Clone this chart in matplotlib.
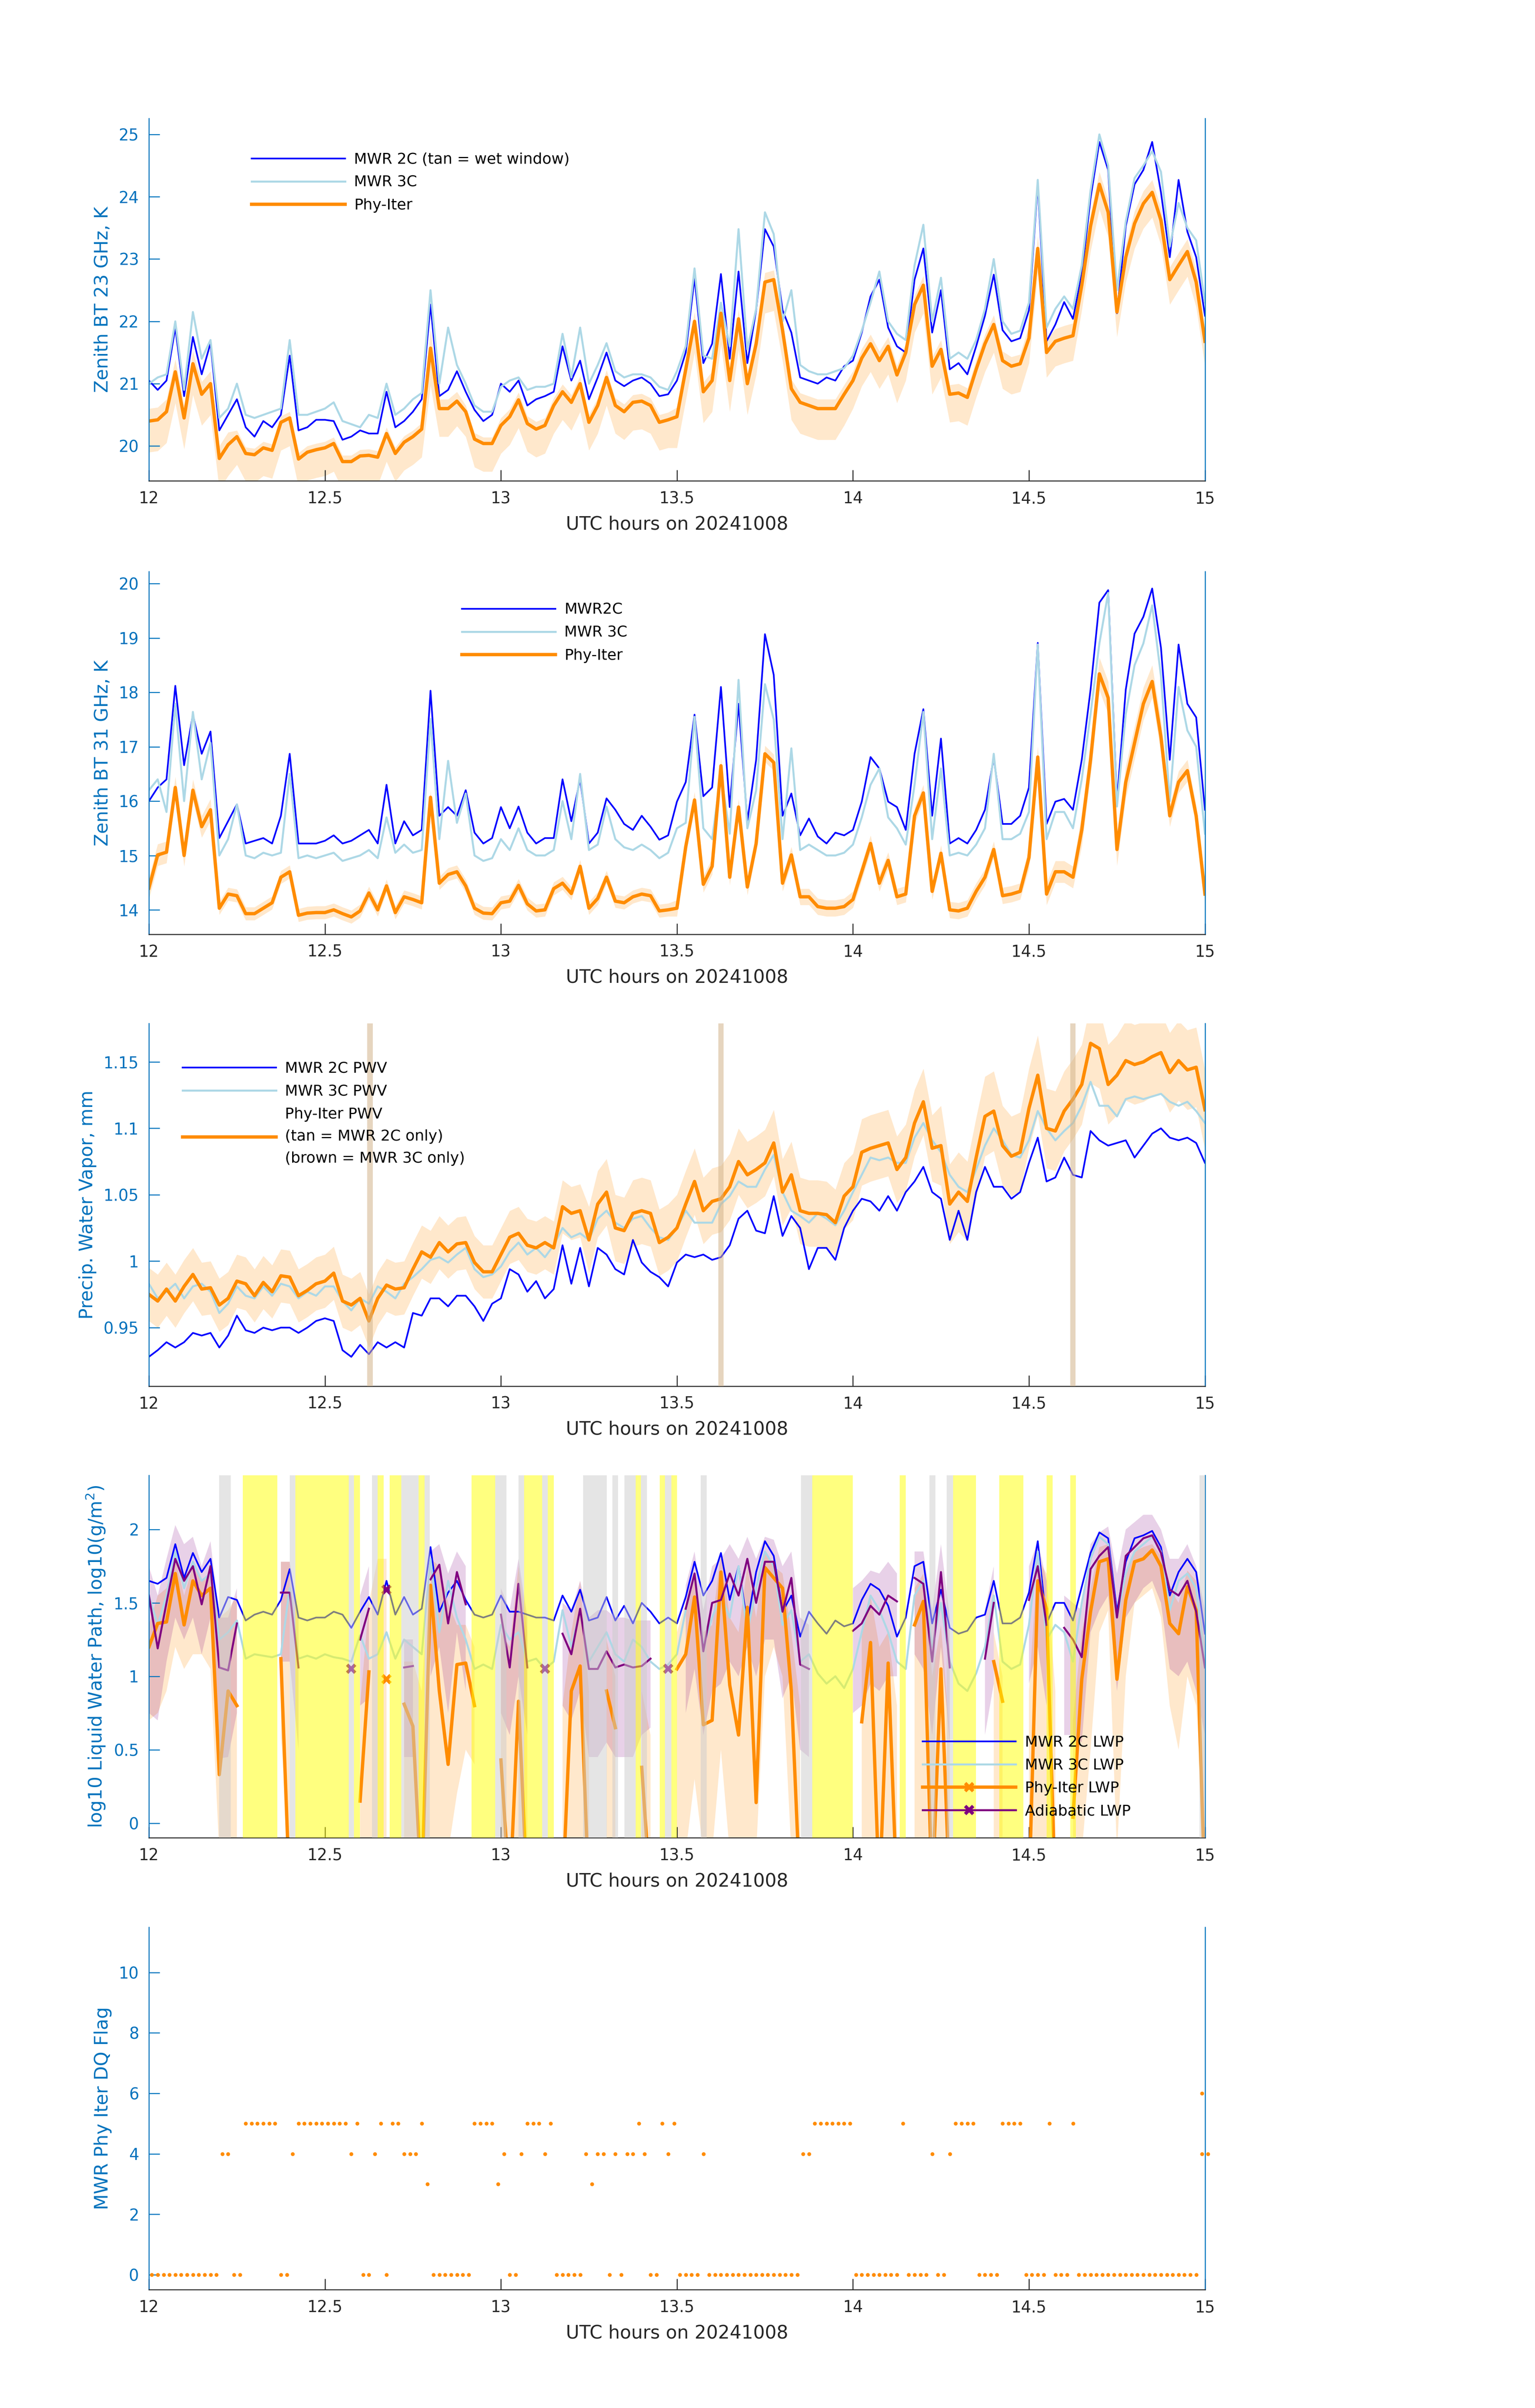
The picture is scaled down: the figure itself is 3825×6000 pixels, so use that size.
import numpy as np
import matplotlib.pyplot as plt
from matplotlib.lines import Line2D
from matplotlib.ticker import FormatStrFormatter

nan = np.nan

# time grid shared by the MWR / Phy-Iter series (1.5 min)
hours = np.linspace(12, 15, 121)

# --- 23 GHz brightness temperature, K
bt23_2c = [21.05, 20.9, 21.05, 21.9, 20.8, 21.75, 21.15, 21.65, 20.25, 20.5,
           20.75, 20.3, 20.15, 20.4, 20.3, 20.5, 21.45, 20.25, 20.3, 20.42,
           20.42, 20.4, 20.1, 20.15, 20.25, 20.2, 20.2, 20.87, 20.3, 20.4,
           20.55, 20.75, 22.27, 20.8, 20.9, 21.2, 20.87, 20.58, 20.4, 20.5,
           21.0, 20.87, 21.05, 20.65, 20.75, 20.8, 20.87, 21.6, 21.05, 21.37,
           20.75, 21.1, 21.5, 21.05, 20.96, 21.05, 21.1, 21.0, 20.8, 20.83,
           21.05, 21.5, 22.7, 21.33, 21.64, 22.76, 21.4, 22.8, 21.33, 22.18,
           23.48, 23.2, 22.18, 21.82, 21.1, 21.05, 21.0, 21.1, 21.05, 21.28,
           21.37, 21.82, 22.4, 22.67, 21.9, 21.6, 21.5, 22.67, 23.17, 21.82,
           22.5, 21.23, 21.33, 21.15, 21.6, 22.09, 22.75, 21.86, 21.68, 21.73,
           22.18, 24.2, 21.68, 21.95, 22.31, 22.04, 22.76, 23.98, 24.88, 24.43,
           22.13, 23.53, 24.2, 24.43, 24.88, 24.07, 23.03, 24.27, 23.44, 23.03,
           22.09]
bt23_3c = [21.0, 21.1, 21.15, 22.0, 20.9, 22.15, 21.4, 21.7, 20.45, 20.6,
           21.0, 20.5, 20.45, 20.5, 20.55, 20.6, 21.7, 20.5, 20.5, 20.55,
           20.6, 20.7, 20.4, 20.35, 20.3, 20.5, 20.45, 21.0, 20.5, 20.6,
           20.75, 20.85, 22.5, 21.0, 21.9, 21.3, 21.0, 20.65, 20.55, 20.55,
           20.95, 21.05, 21.1, 20.9, 20.95, 20.95, 21.0, 21.8, 21.1, 21.9,
           21.0, 21.3, 21.65, 21.2, 21.1, 21.15, 21.15, 21.1, 20.95, 20.9,
           21.2, 21.6, 22.85, 21.45, 21.4, 22.3, 21.6, 23.48, 21.55, 22.2,
           23.75, 23.4, 22.0, 22.5, 21.3, 21.2, 21.15, 21.15, 21.2, 21.25,
           21.45, 21.85, 22.3, 22.8, 22.0, 21.8, 21.7, 22.9, 23.55, 22.0,
           22.7, 21.4, 21.5, 21.4, 21.7, 22.2, 23.0, 22.0, 21.8, 21.85,
           22.3, 24.27, 21.9, 22.2, 22.4, 22.2, 22.9, 24.1, 25.0, 24.5,
           22.5, 23.6, 24.3, 24.5, 24.73, 24.4, 23.2, 23.9, 23.5, 23.3,
           22.3]
bt23_phy = [20.4, 20.42, 20.55, 21.19, 20.45, 21.32, 20.83, 21.0, 19.8, 20.02,
            20.15, 19.88, 19.86, 19.97, 19.93, 20.38, 20.45, 19.79, 19.9, 19.94,
            19.97, 20.04, 19.75, 19.75, 19.84, 19.85, 19.82, 20.2, 19.88, 20.06,
            20.15, 20.27, 21.57, 20.6, 20.6, 20.72, 20.55, 20.11, 20.04, 20.04,
            20.33, 20.47, 20.74, 20.36, 20.27, 20.33, 20.65, 20.87, 20.7, 21.0,
            20.38, 20.65, 21.1, 20.65, 20.55, 20.7, 20.72, 20.65, 20.38, 20.42,
            20.47, 21.23, 22.0, 20.87, 21.05, 22.13, 21.05, 22.04, 21.0, 21.64,
            22.63, 22.67, 21.86, 20.92, 20.7, 20.65, 20.6, 20.6, 20.6, 20.83,
            21.05, 21.41, 21.64, 21.37, 21.6, 21.14, 21.5, 22.27, 22.58, 21.28,
            21.55, 20.83, 20.85, 20.78, 21.23, 21.64, 21.95, 21.37, 21.28, 21.32,
            21.73, 23.17, 21.5, 21.68, 21.73, 21.77, 22.58, 23.53, 24.2, 23.75,
            22.15, 23.03, 23.57, 23.89, 24.07, 23.62, 22.67, 22.9, 23.12, 22.63,
            21.68]
bt23_err_lo = [0.5]*10 + [0.45]*20 + [0.45, 0.45, 0.6, 0.45, 0.45, 0.4, 0.4, 0.45, 0.45, 0.45] \
    + [0.45]*20 + [0.5]*20 + [0.45]*20 + [0.4]*21
bt23_err_hi = [0.2]*10 + [0.1]*20 + [0.1, 0.1, 0.3, 0.15, 0.15, 0.15, 0.1, 0.1, 0.1, 0.1] \
    + [0.12]*20 + [0.15]*20 + [0.15]*20 + [0.2]*21

# --- 31 GHz brightness temperature, K
bt31_2c = [16.0, 16.25, 16.4, 18.12, 16.66, 17.59, 16.87, 17.28, 15.32, 15.63,
           15.94, 15.22, 15.27, 15.32, 15.22, 15.73, 16.87, 15.22, 15.22, 15.22,
           15.27, 15.37, 15.22, 15.27, 15.37, 15.47, 15.22, 16.3, 15.22, 15.63,
           15.37, 15.47, 18.03, 15.73, 15.89, 15.73, 16.2, 15.42, 15.22, 15.32,
           15.89, 15.5, 15.9, 15.42, 15.22, 15.32, 15.32, 16.4, 15.63, 16.4,
           15.22, 15.42, 16.05, 15.84, 15.58, 15.47, 15.73, 15.53, 15.29, 15.37,
           15.99, 16.35, 17.59, 16.09, 16.25, 18.1, 15.89, 17.79, 15.63, 16.76,
           19.07, 18.32, 15.73, 16.14, 15.37, 15.68, 15.35, 15.22, 15.42, 15.37,
           15.47, 15.99, 16.81, 16.6, 15.99, 15.89, 15.47, 16.87, 17.69, 15.73,
           17.15, 15.22, 15.32, 15.22, 15.47, 15.84, 16.8, 15.58, 15.58, 15.73,
           16.25, 18.91, 15.58, 15.99, 16.04, 15.84, 16.76, 18.05, 19.65, 19.88,
           16.0, 18.05, 19.08, 19.39, 19.91, 18.82, 16.76, 18.88, 17.79, 17.54,
           15.84]
bt31_3c = [16.2, 16.4, 15.8, 17.79, 16.0, 17.64, 16.4, 17.07, 15.0, 15.3,
           15.94, 15.0, 14.95, 15.05, 15.0, 15.05, 16.5, 14.95, 15.0, 14.95,
           15.0, 15.05, 14.9, 14.95, 15.0, 15.1, 14.95, 15.7, 15.05, 15.2,
           15.05, 15.1, 17.51, 15.3, 16.74, 15.6, 16.14, 15.0, 14.9, 14.95,
           15.3, 15.1, 15.5, 15.1, 15.0, 15.0, 15.1, 16.0, 15.3, 16.5,
           15.1, 15.2, 15.9, 15.3, 15.15, 15.1, 15.2, 15.1, 14.95, 15.05,
           15.5, 15.6, 17.55, 15.5, 15.3, 16.5, 15.4, 18.23, 15.5, 16.2,
           18.15, 17.5, 15.3, 16.97, 15.1, 15.2, 15.1, 15.0, 15.0, 15.05,
           15.2, 15.7, 16.3, 16.6, 15.7, 15.5, 15.2, 16.3, 17.64, 15.3,
           16.6, 15.0, 15.05, 15.0, 15.2, 15.5, 16.87, 15.3, 15.3, 15.4,
           15.8, 18.88, 15.3, 15.8, 15.8, 15.5, 16.4, 17.6, 18.9, 19.83,
           15.9, 17.6, 18.5, 18.9, 19.6, 18.3, 16.0, 18.1, 17.3, 17.0,
           15.4]
bt31_phy = [14.4, 15.01, 15.06, 16.25, 15.0, 16.2, 15.53, 15.84, 14.03, 14.29,
            14.26, 13.93, 13.93, 14.03, 14.13, 14.6, 14.7, 13.9, 13.94, 13.95,
            13.95, 14.0, 13.93, 13.87, 13.98, 14.31, 14.0, 14.44, 13.95, 14.24,
            14.19, 14.13, 16.07, 14.49, 14.65, 14.7, 14.44, 14.03, 13.94, 13.93,
            14.13, 14.16, 14.45, 14.11, 13.98, 14.0, 14.39, 14.49, 14.3, 14.8,
            14.03, 14.21, 14.6, 14.16, 14.13, 14.24, 14.29, 14.26, 13.98, 14.0,
            14.03, 15.16, 16.02, 14.47, 14.8, 16.65, 14.6, 15.89, 14.42, 15.22,
            16.87, 16.71, 14.49, 15.01, 14.24, 14.24, 14.06, 14.03, 14.03, 14.06,
            14.19, 14.7, 15.22, 14.49, 14.91, 14.24, 14.29, 15.73, 16.15, 14.34,
            15.04, 14.0, 13.98, 14.03, 14.34, 14.6, 15.11, 14.26, 14.29, 14.34,
            14.96, 16.81, 14.29, 14.7, 14.7, 14.6, 15.47, 16.76, 18.34, 17.9,
            15.11, 16.35, 17.07, 17.79, 18.2, 17.18, 15.73, 16.35, 16.56, 15.73,
            14.29]
bt31_err = [0.2]*8 + [0.12]*52 + [0.15]*40 + [0.2]*6 + [0.3]*10 + [0.2]*5

# --- precipitable water vapor
pwv_2c = [0.928, 0.933, 0.939, 0.935, 0.939, 0.946, 0.944, 0.946, 0.935, 0.944,
          0.959, 0.948, 0.946, 0.950, 0.948, 0.950, 0.950, 0.946, 0.950, 0.955,
          0.957, 0.955, 0.933, 0.928, 0.937, 0.930, 0.939, 0.935, 0.939, 0.935,
          0.961, 0.959, 0.972, 0.972, 0.966, 0.974, 0.974, 0.966, 0.955, 0.968,
          0.972, 0.994, 0.990, 0.977, 0.985, 0.972, 0.979, 1.012, 0.983, 1.010,
          0.981, 1.010, 1.005, 0.994, 0.990, 1.016, 0.999, 0.992, 0.988, 0.981,
          0.999, 1.005, 1.003, 1.005, 1.001, 1.003, 1.012, 1.032, 1.038, 1.023,
          1.021, 1.049, 1.019, 1.034, 1.025, 0.994, 1.010, 1.010, 1.001, 1.025,
          1.038, 1.047, 1.045, 1.038, 1.049, 1.038, 1.052, 1.060, 1.071, 1.052,
          1.047, 1.016, 1.038, 1.016, 1.052, 1.071, 1.056, 1.056, 1.047, 1.052,
          1.074, 1.093, 1.060, 1.063, 1.078, 1.065, 1.063, 1.098, 1.091, 1.087,
          1.089, 1.091, 1.078, 1.087, 1.096, 1.100, 1.093, 1.091, 1.093, 1.089,
          1.074]
pwv_3c = [0.983, 0.972, 0.977, 0.983, 0.972, 0.981, 0.983, 0.977, 0.961, 0.968,
          0.981, 0.974, 0.972, 0.981, 0.974, 0.983, 0.981, 0.972, 0.977, 0.974,
          0.981, 0.981, 0.970, 0.963, 0.972, 0.968, 0.981, 0.977, 0.972, 0.983,
          0.988, 0.994, 1.001, 1.003, 0.999, 1.005, 1.010, 0.994, 0.988, 0.990,
          0.996, 1.007, 1.014, 1.005, 1.010, 1.003, 1.012, 1.025, 1.018, 1.021,
          1.016, 1.032, 1.038, 1.029, 1.025, 1.032, 1.034, 1.025, 1.018, 1.016,
          1.025, 1.038, 1.029, 1.029, 1.029, 1.043, 1.049, 1.060, 1.056, 1.056,
          1.069, 1.080, 1.052, 1.038, 1.034, 1.029, 1.036, 1.032, 1.027, 1.038,
          1.052, 1.065, 1.078, 1.076, 1.078, 1.074, 1.074, 1.093, 1.104, 1.091,
          1.082, 1.065, 1.056, 1.052, 1.069, 1.087, 1.100, 1.091, 1.080, 1.078,
          1.091, 1.113, 1.100, 1.091, 1.098, 1.104, 1.117, 1.135, 1.117, 1.117,
          1.109, 1.122, 1.124, 1.122, 1.124, 1.126, 1.120, 1.117, 1.120, 1.113,
          1.104]
pwv_phy = [0.975, 0.970, 0.979, 0.970, 0.981, 0.990, 0.979, 0.980, 0.967, 0.972,
           0.985, 0.983, 0.974, 0.984, 0.977, 0.989, 0.988, 0.974, 0.978, 0.983,
           0.985, 0.991, 0.970, 0.967, 0.972, 0.955, 0.972, 0.982, 0.979, 0.980,
           0.994, 1.007, 1.003, 1.014, 1.007, 1.013, 1.014, 0.999, 0.992, 0.992,
           1.005, 1.018, 1.021, 1.012, 1.010, 1.014, 1.010, 1.041, 1.036, 1.038,
           1.016, 1.043, 1.052, 1.025, 1.023, 1.036, 1.038, 1.036, 1.014, 1.018,
           1.025, 1.043, 1.060, 1.038, 1.045, 1.047, 1.056, 1.075, 1.065, 1.069,
           1.074, 1.089, 1.052, 1.065, 1.038, 1.036, 1.036, 1.035, 1.029, 1.049,
           1.056, 1.082, 1.085, 1.087, 1.089, 1.069, 1.078, 1.104, 1.120, 1.085,
           1.087, 1.043, 1.052, 1.045, 1.078, 1.109, 1.113, 1.087, 1.079, 1.082,
           1.115, 1.140, 1.100, 1.098, 1.113, 1.122, 1.133, 1.164, 1.160, 1.133,
           1.140, 1.151, 1.148, 1.150, 1.154, 1.157, 1.142, 1.151, 1.144, 1.146,
           1.114]
pwv_err = [0.02]*50 + [0.025]*40 + [0.03]*31
wet_windows = [(12.620, 12.636), (13.618, 13.632), (14.617, 14.632)]

# --- liquid water path, log10(g/m2)
lwp_2c = [1.65, 1.63, 1.67, 1.90, 1.67, 1.84, 1.71, 1.80, 1.40, 1.54,
          1.52, 1.38, 1.42, 1.44, 1.42, 1.52, 1.73, 1.40, 1.38, 1.40,
          1.40, 1.44, 1.42, 1.33, 1.44, 1.54, 1.42, 1.65, 1.42, 1.54,
          1.42, 1.46, 1.88, 1.44, 1.57, 1.65, 1.52, 1.42, 1.40, 1.42,
          1.55, 1.44, 1.44, 1.42, 1.40, 1.40, 1.38, 1.55, 1.44, 1.59,
          1.38, 1.40, 1.54, 1.38, 1.48, 1.36, 1.50, 1.44, 1.36, 1.40,
          1.36, 1.54, 1.78, 1.55, 1.65, 1.84, 1.52, 1.75, 1.36, 1.71,
          1.92, 1.82, 1.44, 1.55, 1.27, 1.44, 1.36, 1.29, 1.38, 1.34,
          1.36, 1.52, 1.63, 1.59, 1.48, 1.27, 1.40, 1.75, 1.78, 1.36,
          1.59, 1.33, 1.29, 1.31, 1.40, 1.42, 1.65, 1.36, 1.36, 1.40,
          1.57, 1.92, 1.36, 1.50, 1.50, 1.38, 1.61, 1.84, 1.98, 1.94,
          1.44, 1.78, 1.94, 1.96, 1.99, 1.88, 1.55, 1.71, 1.80, 1.71,
          1.29]
lwp_3c = [1.55, 1.35, 1.55, 1.85, 1.60, 1.78, 1.65, 1.70, 1.25, 1.30,
          1.38, 1.12, 1.15, 1.14, 1.13, 1.15, 1.60, 1.12, 1.14, 1.12,
          1.15, 1.13, 1.12, 1.10, 1.28, 1.12, 1.15, 1.30, 1.12, 1.25,
          1.20, 1.15, 1.80, 1.30, 1.65, 1.40, 1.25, 1.05, 1.08, 1.05,
          1.35, 1.25, 1.30, 1.10, 1.12, 1.05, 1.10, 1.45, 1.20, 1.45,
          1.10, 1.20, 1.30, 1.15, 1.10, 1.25, 1.20, 1.10, 1.05, 1.08,
          1.15, 1.45, 1.70, 1.20, 1.40, 1.55, 1.40, 1.75, 1.30, 1.60,
          1.85, 1.75, 1.35, 1.45, 1.10, 1.15, 1.02, 0.95, 1.00, 0.92,
          1.05, 1.30, 1.55, 1.45, 1.30, 1.10, 1.05, 1.55, 1.65, 1.20,
          1.50, 1.10, 0.95, 0.90, 1.02, 1.20, 1.55, 1.10, 1.05, 1.08,
          1.35, 1.85, 1.25, 1.35, 1.30, 1.10, 1.50, 1.80, 1.95, 1.90,
          1.40, 1.70, 1.85, 1.90, 1.95, 1.85, 1.45, 1.65, 1.70, 1.60,
          1.10]
lwp_phy = [1.20, 1.36, 1.37, 1.70, 1.35, 1.65, 1.55, 1.60, 0.33, 0.90,
           0.80, nan, nan, nan, nan, 1.12, -0.5, nan, nan, nan,
           nan, nan, nan, nan, 0.15, 1.03, nan, nan, nan, 0.81,
           0.66, -0.5, 1.62, 0.90, 0.40, 1.08, 1.09, 0.80, nan, nan,
           0.43, -0.5, 0.83, -0.5, nan, nan, nan, -0.5, 0.90, 1.07,
           -0.5, nan, 0.90, 0.65, nan, nan, 0.38, -0.5, nan, nan,
           1.05, 1.15, 1.54, 0.67, 0.70, 1.71, 0.94, 0.60, 1.47, 0.14,
           1.74, 1.67, 1.60, 0.90, -0.5, nan, nan, nan, nan, nan,
           nan, 0.69, 1.23, -0.5, 1.09, -0.5, nan, 1.35, 1.51, -0.5,
           1.05, -0.5, nan, nan, nan, nan, 1.10, 0.83, nan, nan,
           -0.5, 1.65, 1.46, -0.5, nan, 0.04, 0.98, 1.44, 1.78, 1.80,
           0.98, 1.52, 1.78, 1.80, 1.86, 1.75, 1.36, 1.29, 1.61, 1.45,
           -0.5]
lwp_phy_up = [1.35, 1.55, 1.60, 1.80, 1.55, 1.75, 1.65, 1.70, 1.40, 1.45,
              1.55, nan, nan, nan, nan, 1.78, 1.78, nan, nan, nan,
              nan, nan, nan, nan, 0.80, 1.50, 1.80, 1.80, nan, 1.10,
              1.10, 0.90, 1.80, 1.75, 1.50, 1.35, 1.35, 1.20, nan, nan,
              1.30, 1.20, 1.75, 1.30, nan, nan, nan, 0.80, 1.30, 1.65,
              0.90, nan, 1.25, 1.00, nan, nan, 0.90, 0.60, nan, nan,
              1.30, 1.50, 1.70, 1.30, 1.35, 1.85, 1.40, 1.30, 1.75, 1.40,
              1.85, 1.75, 1.70, 1.30, 0.80, nan, nan, nan, nan, nan,
              nan, 1.30, 1.55, 1.20, 1.30, 0.80, nan, 1.60, 1.70, 1.00,
              1.35, 0.60, nan, nan, nan, nan, 1.30, 1.00, nan, nan,
              0.90, 1.80, 1.70, 0.90, nan, 0.70, 1.30, 1.60, 1.88, 1.90,
              1.40, 1.70, 1.85, 1.88, 1.90, 1.82, 1.60, 1.50, 1.72, 1.65,
              1.20]
lwp_phy_lo = [0.70, 0.75, 0.90, 1.20, 1.05, 1.15, 1.15, 1.05, -0.2, -0.2,
              -0.2, nan, nan, nan, nan, 0.58, -0.2, nan, nan, nan,
              nan, nan, nan, nan, -0.2, -0.2, -0.2, -0.2, nan, -0.2,
              -0.2, -0.2, -0.2, -0.2, -0.2, 0.20, 0.50, 0.40, nan, nan,
              -0.2, -0.2, -0.2, -0.2, nan, nan, nan, -0.2, -0.2, -0.2,
              -0.2, nan, -0.2, -0.2, nan, nan, -0.2, -0.2, nan, nan,
              -0.2, -0.2, 0.30, -0.2, -0.2, 0.50, -0.2, -0.2, -0.2, -0.2,
              1.00, 1.20, 1.00, -0.2, -0.2, nan, nan, nan, nan, nan,
              nan, -0.2, -0.2, -0.2, -0.2, -0.2, nan, -0.2, -0.2, -0.2,
              -0.2, -0.2, nan, nan, nan, nan, -0.2, -0.2, nan, nan,
              -0.2, -0.2, -0.2, -0.2, nan, -0.2, -0.2, 0.50, 1.30, 1.45,
              -0.2, 1.00, 1.50, 1.55, 1.60, 1.40, 0.80, 0.50, 1.00, 0.80,
              -0.2]
lwp_adiab = [1.55, 1.19, 1.50, 1.80, 1.65, 1.75, 1.49, 1.75, 1.06, 1.04,
             1.36, nan, nan, nan, nan, 1.57, 1.57, 1.06, nan, nan,
             nan, nan, nan, nan, 1.25, 1.46, nan, nan, nan, 1.06,
             1.07, nan, 1.66, 1.76, 1.36, 1.71, 1.49, nan, nan, nan,
             1.42, 1.06, 1.63, 1.06, nan, nan, nan, 1.29, 1.15, 1.46,
             1.05, 1.05, 1.17, 1.06, 1.08, 1.06, 1.07, 1.12, nan, nan,
             nan, 1.46, 1.70, 1.17, 1.50, 1.52, 1.70, 1.55, 1.80, 1.50,
             1.78, 1.78, 1.44, 1.67, 1.08, 1.05, nan, nan, nan, nan,
             1.31, 1.36, 1.48, 1.42, 1.55, 1.51, nan, 1.67, 1.63, 1.10,
             1.71, 1.06, nan, nan, nan, 1.12, 1.50, nan, nan, nan,
             1.52, 1.75, 1.35, nan, 1.33, 1.25, 1.13, 1.73, 1.82, 1.88,
             1.40, 1.82, 1.88, 1.94, 1.96, 1.84, 1.59, 1.55, 1.65, 1.44,
             1.06]
lwp_adiab_up = [1.75, 1.55, 1.80, 2.03, 1.90, 1.95, 1.75, 1.92, 1.40, 1.40,
                1.60, nan, nan, nan, nan, 1.78, 1.78, 1.40, nan, nan,
                nan, nan, nan, nan, 1.55, 1.75, nan, nan, nan, 1.25,
                1.25, nan, 1.85, 1.90, 1.70, 1.85, 1.75, nan, nan, nan,
                1.60, 1.45, 1.80, 1.40, nan, nan, nan, 1.50, 1.45, 1.65,
                1.40, 1.45, 1.45, 1.40, 1.40, 1.38, 1.38, 1.38, nan, nan,
                nan, 1.62, 1.85, 1.45, 1.75, 1.80, 1.90, 1.80, 1.95, 1.80,
                1.95, 1.93, 1.75, 1.85, 1.40, 1.35, nan, nan, nan, nan,
                1.60, 1.65, 1.72, 1.70, 1.78, 1.70, nan, 1.85, 1.85, 1.45,
                1.90, 1.40, nan, nan, nan, 1.45, 1.75, nan, nan, nan,
                1.75, 1.92, 1.65, nan, 1.55, 1.50, 1.45, 1.90, 1.98, 2.02,
                1.70, 2.00, 2.05, 2.10, 2.10, 2.00, 1.80, 1.80, 1.90, 1.75,
                1.45]
lwp_adiab_lo = [0.75, 0.70, 1.10, 1.40, 1.25, 1.40, 1.15, 1.40, 0.44, 0.45,
                0.75, nan, nan, nan, nan, 1.10, 1.10, 0.50, nan, nan,
                nan, nan, nan, nan, 0.80, 0.85, nan, nan, nan, 0.45,
                0.45, nan, 1.00, 1.20, 0.75, 1.30, 0.90, nan, nan, nan,
                0.75, 0.60, 1.00, 0.60, nan, nan, nan, 0.80, 0.70, 0.90,
                0.45, 0.45, 0.55, 0.45, 0.45, 0.45, 0.60, 0.65, nan, nan,
                nan, 0.75, 1.05, 0.60, 0.90, 0.95, 1.10, 1.00, 1.20, 1.00,
                1.25, 1.25, 0.85, 1.00, 0.50, 0.45, nan, nan, nan, nan,
                0.75, 0.80, 0.95, 0.90, 1.00, 1.00, nan, 1.15, 1.05, 0.60,
                1.20, 0.55, nan, nan, nan, 0.60, 0.95, nan, nan, nan,
                0.95, 1.20, 0.80, nan, 0.60, 0.60, 0.55, 1.30, 1.45, 1.55,
                0.90, 1.40, 1.50, 1.60, 1.65, 1.50, 1.05, 1.00, 1.10, 0.90,
                0.60]
adiab_pts_t = [12.575, 12.675, 13.125, 13.475]
adiab_pts_v = [1.05, 1.59, 1.05, 1.05]
phy_pts_t = [12.675]
phy_pts_v = [0.98]
clear_spans = [(12.267, 12.365), (12.416, 12.568), (12.583, 12.600), (12.650, 12.667),
               (12.684, 12.717), (12.766, 12.783), (12.916, 12.984), (13.066, 13.117),
               (13.133, 13.150), (13.383, 13.398), (13.451, 13.466), (13.484, 13.500),
               (13.884, 14.000), (14.133, 14.150), (14.284, 14.350), (14.416, 14.484),
               (14.550, 14.567), (14.617, 14.633)]
flag_spans = [(12.200, 12.233), (12.400, 12.416), (12.568, 12.583), (12.634, 12.650),
              (12.717, 12.766), (12.783, 12.798), (12.984, 13.016), (13.050, 13.066),
              (13.117, 13.133), (13.234, 13.301), (13.317, 13.333), (13.351, 13.383),
              (13.398, 13.415), (13.466, 13.484), (13.568, 13.584), (13.852, 13.884),
              (14.217, 14.234), (14.266, 14.284), (14.984, 15.000)]

# --- Phy-Iter data quality flag, one per minute
dq_flag = [0, 0, 0, 0, 0, 0, 0, 0, 0, 0,
           0, 0, 4, 4, 0, 0, 5, 5, 5, 5,
           5, 5, 0, 0, 4, 5, 5, 5, 5, 5,
           5, 5, 5, 5, 4, 5, 0, 0, 4, 5,
           0, 5, 5, 4, 4, 4, 5, 3, 0, 0,
           0, 0, 0, 0, 0, 5, 5, 5, 5, 3,
           4, 0, 0, 4, 5, 5, 5, 4, 5, 0,
           0, 0, 0, 0, 4, 3, 4, 4, 0, 4,
           0, 4, 4, 5, 4, 0, 0, 5, 4, 5,
           0, 0, 0, 0, 4, 0, 0, 0, 0, 0,
           0, 0, 0, 0, 0, 0, 0, 0, 0, 0,
           0, 4, 4, 5, 5, 5, 5, 5, 5, 5,
           0, 0, 0, 0, 0, 0, 0, 0, 5, 0,
           0, 0, 0, 4, 0, 0, 4, 5, 5, 5,
           5, 0, 0, 0, 0, 5, 5, 5, 5, 0,
           0, 0, 0, 5, 0, 0, 0, 5, 0, 0,
           0, 0, 0, 0, 0, 0, 0, 0, 0, 0,
           0, 0, 0, 0, 0, 0, 0, 0, 0, 4]
dq_extra_t = [14.9917, 15.0083]
dq_extra_v = [6, 4]
dq_hours = 12 + (np.arange(len(dq_flag)) + 0.5) / 60

AX_BLUE = '#0072BD'
ORANGE = '#FF8C00'
LIGHTBLUE = '#ADD8E6'
PURPLE = '#800080'

plt.rcParams['font.family'] = ['DejaVu Sans']


def style_axis(ax, ylabel, ylim, yticks):
    ax.set_xlim(12, 15)
    ax.set_ylim(*ylim)
    ax.set_xticks([12, 12.5, 13, 13.5, 14, 14.5, 15])
    ax.set_yticks(yticks)
    ax.xaxis.set_major_formatter(FormatStrFormatter('%g'))
    ax.yaxis.set_major_formatter(FormatStrFormatter('%g'))
    ax.spines['top'].set_visible(False)
    for side in ['left', 'right']:
        ax.spines[side].set_color(AX_BLUE)
        ax.spines[side].set_linewidth(0.6)
    ax.spines['bottom'].set_color('#262626')
    ax.spines['bottom'].set_linewidth(0.6)
    ax.tick_params(axis='y', colors=AX_BLUE, direction='in', length=6.5, width=0.6,
                   labelsize=9.5, pad=6)
    ax.tick_params(axis='x', colors='#262626', direction='in', length=6.5, width=0.6,
                   labelsize=9.5, pad=6)
    ax.set_xlabel('UTC hours on 20241008', fontsize=11, color='#262626', labelpad=5)
    ax.set_ylabel(ylabel, fontsize=11, color=AX_BLUE)


def add_legend(ax, handles, labels, x, y):
    leg = ax.legend(handles, labels, loc='upper left', bbox_to_anchor=(x, y),
                    bbox_transform=fig.transFigure, frameon=False, fontsize=9,
                    handlelength=6.2, handletextpad=0.6, labelspacing=0.56,
                    borderpad=0, borderaxespad=0)
    leg.set_zorder(20)
    return leg


fig = plt.figure(figsize=(12.75, 20))
h = 0.1506
ax1 = fig.add_axes([0.097, 0.8003, 0.688, h])
ax2 = fig.add_axes([0.097, 0.6120, 0.688, h])
ax3 = fig.add_axes([0.097, 0.4244, 0.688, h])
ax4 = fig.add_axes([0.097, 0.2368, 0.688, h])
ax5 = fig.add_axes([0.097, 0.0491, 0.688, h])

# panel 1: 23 GHz
phy = np.array(bt23_phy)
l1, = ax1.plot(hours, bt23_2c, color='blue', lw=1.0)
l2, = ax1.plot(hours, bt23_3c, color=LIGHTBLUE, lw=1.2)
ax1.fill_between(hours, phy - np.array(bt23_err_lo), phy + np.array(bt23_err_hi),
                 color=ORANGE, alpha=0.2, lw=0)
l3, = ax1.plot(hours, phy, color=ORANGE, lw=2.0)
style_axis(ax1, 'Zenith BT 23 GHz, K', (19.44, 25.26), [20, 21, 22, 23, 24, 25])
add_legend(ax1, [l1, l2, l3], ['MWR 2C (tan = wet window)', 'MWR 3C', 'Phy-Iter'], 0.164, 0.9367)

# panel 2: 31 GHz
phy = np.array(bt31_phy)
err = np.array(bt31_err)
l1, = ax2.plot(hours, bt31_2c, color='blue', lw=1.0)
l2, = ax2.plot(hours, bt31_3c, color=LIGHTBLUE, lw=1.2)
ax2.fill_between(hours, phy - err, phy + err, color=ORANGE, alpha=0.2, lw=0)
l3, = ax2.plot(hours, phy, color=ORANGE, lw=2.0)
style_axis(ax2, 'Zenith BT 31 GHz, K', (13.55, 20.22), [14, 15, 16, 17, 18, 19, 20])
add_legend(ax2, [l1, l2, l3], ['MWR2C', 'MWR 3C', 'Phy-Iter'], 0.301, 0.7497)

# panel 3: PWV
phy = np.array(pwv_phy)
err = np.array(pwv_err)
l1, = ax3.plot(hours, pwv_2c, color='blue', lw=1.0)
l2, = ax3.plot(hours, pwv_3c, color=LIGHTBLUE, lw=1.2)
ax3.fill_between(hours, phy - err, phy + err, color=ORANGE, alpha=0.2, lw=0)
l3, = ax3.plot(hours, phy, color=ORANGE, lw=2.0)
for t0, t1 in wet_windows:
    ax3.axvspan(t0, t1, color='tan', alpha=0.55, lw=0, zorder=5)
style_axis(ax3, 'Precip. Water Vapor, mm', (0.906, 1.179), [0.95, 1.0, 1.05, 1.1, 1.15])
leg = add_legend(ax3, [l1, l2, l3],
                 ['MWR 2C PWV', 'MWR 3C PWV',
                  'Phy-Iter PWV\n(tan = MWR 2C only)\n(brown = MWR 3C only)'], 0.119, 0.5591)
for txt in leg.get_texts():
    txt.set_linespacing(1.68)

# panel 4: LWP
ax4.plot(hours, lwp_2c, color='blue', lw=1.0)
ax4.plot(hours, lwp_3c, color=LIGHTBLUE, lw=1.2)
ax4.fill_between(hours, lwp_phy_lo, lwp_phy_up, color=ORANGE, alpha=0.2, lw=0)
ax4.fill_between(hours, lwp_adiab_lo, lwp_adiab_up, color=PURPLE, alpha=0.18, lw=0)
ax4.plot(hours, lwp_phy, color=ORANGE, lw=2.0)
ax4.plot(hours, lwp_adiab, color=PURPLE, lw=1.2)
ax4.plot(phy_pts_t, phy_pts_v, 'x', color=ORANGE, ms=5, mew=2)
ax4.plot(adiab_pts_t, adiab_pts_v, 'x', color=PURPLE, ms=5, mew=2)
for t0, t1 in clear_spans:
    ax4.axvspan(t0, t1, color='yellow', alpha=0.5, lw=0, zorder=5)
for t0, t1 in flag_spans:
    ax4.axvspan(t0, t1, color='#CCCCCC', alpha=0.5, lw=0, zorder=5)
style_axis(ax4, 'log10 Liquid Water Path, log10(g/m$^{2}$)', (-0.1, 2.37), [0, 0.5, 1, 1.5, 2])
lwp_handles = [Line2D([], [], color='blue', lw=1.0),
               Line2D([], [], color=LIGHTBLUE, lw=1.2),
               Line2D([], [], color=ORANGE, lw=2.0, marker='x', ms=5, mew=2),
               Line2D([], [], color=PURPLE, lw=1.2, marker='x', ms=5, mew=2)]
add_legend(ax4, lwp_handles, ['MWR 2C LWP', 'MWR 3C LWP', 'Phy-Iter LWP', 'Adiabatic LWP'],
           0.601, 0.2793)

# panel 5: DQ flag
ax5.plot(dq_hours, dq_flag, 'o', color=ORANGE, ms=2.3, mew=0)
ax5.plot(dq_extra_t, dq_extra_v, 'o', color=ORANGE, ms=2.3, mew=0, clip_on=False)
style_axis(ax5, 'MWR Phy Iter DQ Flag', (-0.5, 11.5), [0, 2, 4, 6, 8, 10])

fig.savefig('out.png', dpi=300)
